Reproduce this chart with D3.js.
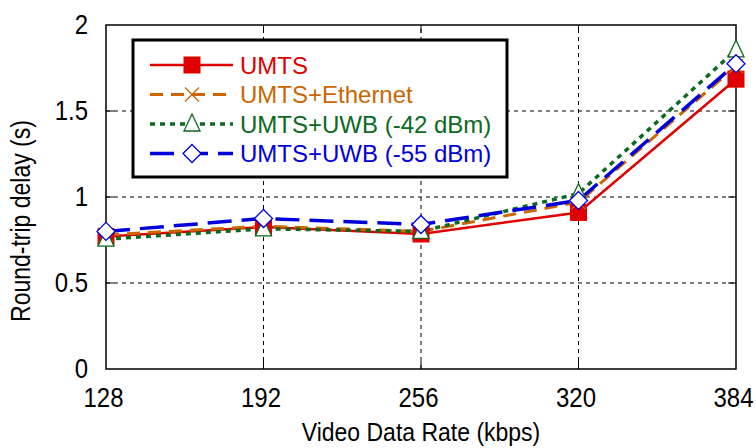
<!DOCTYPE html>
<html><head><meta charset="utf-8">
<script src="https://cdn.jsdelivr.net/npm/d3@7/dist/d3.min.js"></script>
<style>body{margin:0;background:#fff}svg{display:block}text{font-family:"Liberation Sans",Arial,sans-serif}</style>
</head><body>
<script>
const rates = [128, 192, 256, 320, 384];
const umts = [0.77, 0.825, 0.785, 0.91, 1.685];
const umtsEth = [0.78, 0.83, 0.80, 0.97, 1.76];
const uwb42 = [0.755, 0.815, 0.80, 1.02, 1.855];
const uwb55 = [0.80, 0.875, 0.84, 0.98, 1.775];
const yTicks = [0, 0.5, 1, 1.5, 2];
const yTickLabels = ["0", "0.5", "1", "1.5", "2"];
const seriesNames = ["UMTS", "UMTS+Ethernet", "UMTS+UWB (-42 dBm)", "UMTS+UWB (-55 dBm)"];

const W = 756, H = 448;
const m = {l: 106, r: 20, t: 25, b: 79};
const FONT = "'Liberation Sans',Arial,sans-serif";
const SY = 1.15;
const svg = d3.select("body").append("svg").attr("width", W).attr("height", H);
const x = d3.scaleLinear().domain([128, 384]).range([m.l, W - m.r]);
const y = d3.scaleLinear().domain([0, 2]).range([H - m.b, m.t]);

// grid
const g = svg.append("g");
g.selectAll(".gx").data(rates.slice(1, -1)).enter().append("line")
  .attr("x1", d => x(d)).attr("x2", d => x(d)).attr("y1", y(0)).attr("y2", y(2))
  .attr("stroke", "#000").attr("stroke-width", 1).attr("stroke-dasharray", "4,4");
g.selectAll(".gy").data(yTicks.slice(1, -1)).enter().append("line")
  .attr("x1", x(128)).attr("x2", x(384)).attr("y1", d => y(d)).attr("y2", d => y(d))
  .attr("stroke", "#000").attr("stroke-width", 1).attr("stroke-dasharray", "4,4");

// axes
const xAxis = d3.axisBottom(x).tickValues(rates).tickSize(0).tickPadding(16).tickFormat(d3.format("d"));
const yAxis = d3.axisLeft(y).tickValues(yTicks).tickSize(0).tickPadding(18).tickFormat((d, i) => yTickLabels[i]);
const xa = svg.append("g").attr("transform", `translate(0,${y(0)})`).call(xAxis);
const ya = svg.append("g").attr("transform", `translate(${x(128)},0)`).call(yAxis);
[xa, ya].forEach(a => {
  a.select(".domain").remove();
  a.selectAll("text").attr("font-size", 24).attr("fill", "#000").style("font-family", FONT)
    .attr("transform", `scale(1,${SY})`);
});
xa.selectAll(".tick text").attr("x", -3);
ya.selectAll(".tick text").attr("y", 0).attr("dy", "0.3em");
// inner tick marks
const tk = svg.append("g").attr("stroke", "#000");
tk.selectAll(".tb").data(rates.slice(1, -1)).enter().append("line")
  .attr("x1", d => x(d)).attr("x2", d => x(d)).attr("y1", y(0)).attr("y2", y(0) - 8);
tk.selectAll(".tt").data(rates.slice(1, -1)).enter().append("line")
  .attr("x1", d => x(d)).attr("x2", d => x(d)).attr("y1", y(2)).attr("y2", y(2) + 8);
tk.selectAll(".tl").data(yTicks.slice(1, -1)).enter().append("line")
  .attr("x1", x(128)).attr("x2", x(128) + 8).attr("y1", d => y(d)).attr("y2", d => y(d));
tk.selectAll(".tr").data(yTicks.slice(1, -1)).enter().append("line")
  .attr("x1", x(384)).attr("x2", x(384) - 8).attr("y1", d => y(d)).attr("y2", d => y(d));

svg.append("rect").attr("x", x(128)).attr("y", y(2)).attr("width", x(384) - x(128)).attr("height", y(0) - y(2))
  .attr("fill", "none").attr("stroke", "#000").attr("stroke-width", 1.5);

svg.append("text").attr("transform", `translate(${(x(128) + x(384)) / 2},441) scale(1,1.15)`).attr("text-anchor", "middle")
  .attr("font-size", 23).text("Video Data Rate (kbps)");
svg.append("text").attr("transform", `translate(30,221) rotate(-90) scale(1,1.2)`).attr("text-anchor", "middle")
  .attr("font-size", 23).text("Round-trip delay (s)");

const series = [
  {name: seriesNames[0], vals: umts, color: "#e00000", dash: null, width: 2.5, marker: "square"},
  {name: seriesNames[1], vals: umtsEth, color: "#cc6600", dash: "13,8", width: 3, marker: "cross"},
  {name: seriesNames[2], vals: uwb42, color: "#0a6a1e", dash: "5,5", width: 3.5, marker: "triangle"},
  {name: seriesNames[3], vals: uwb55, color: "#0000dd", dash: "24,10", width: 3.5, marker: "diamond"}
];
const line = d3.line().x((d, i) => x(rates[i])).y(d => y(d));

function drawMarker(sel, type, color, cx, cy) {
  if (type === "square") {
    sel.append("rect").attr("x", cx - 8.5).attr("y", cy - 8.5).attr("width", 17).attr("height", 17).attr("fill", color);
  } else if (type === "cross") {
    sel.append("path").attr("d", `M${cx-7},${cy-7}L${cx+7},${cy+7}M${cx-7},${cy+7}L${cx+7},${cy-7}`)
      .attr("stroke", color).attr("stroke-width", 1.3).attr("fill", "none");
  } else if (type === "triangle") {
    sel.append("path").attr("d", `M${cx},${cy-10}L${cx+8},${cy+7}L${cx-8},${cy+7}Z`)
      .attr("stroke", color).attr("stroke-width", 1.3).attr("fill", "#fff");
  } else if (type === "diamond") {
    sel.append("path").attr("d", `M${cx},${cy-9}L${cx+9},${cy}L${cx},${cy+9}L${cx-9},${cy}Z`)
      .attr("stroke", color).attr("stroke-width", 1.3).attr("fill", "#fff");
  }
}

series.forEach(s => {
  svg.append("path").datum(s.vals).attr("d", line).attr("fill", "none").attr("stroke", s.color)
    .attr("stroke-width", s.width).attr("stroke-dasharray", s.dash);
});
series.forEach(s => {
  const mg = svg.append("g");
  s.vals.forEach((v, i) => drawMarker(mg, s.marker, s.color, x(rates[i]), y(v)));
});

// legend
const lg = svg.append("g");
lg.append("rect").attr("x", 133).attr("y", 40).attr("width", 374).attr("height", 137)
  .attr("fill", "#fff").attr("stroke", "#000").attr("stroke-width", 3);
series.forEach((s, i) => {
  const ly = 65 + i * 29.5;
  lg.append("line").attr("x1", 150).attr("x2", 233).attr("y1", ly).attr("y2", ly)
    .attr("stroke", s.color).attr("stroke-width", s.width).attr("stroke-dasharray", s.dash);
  drawMarker(lg, s.marker, s.color, 192, ly);
  lg.append("text").attr("x", 240).attr("y", ly + 8.5).attr("font-size", 24).attr("fill", s.color).text(s.name);
});
</script>
</body></html>
